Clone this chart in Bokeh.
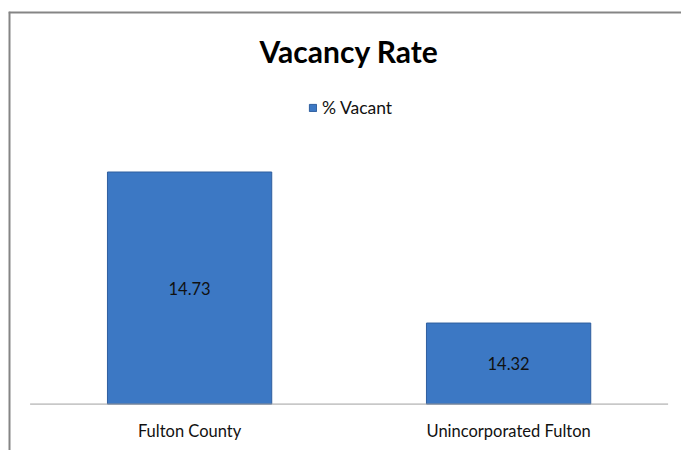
from bokeh.plotting import figure
from bokeh.models import ColumnDataSource, Range1d, Legend, LegendItem, LabelSet
from bokeh.core.properties import value
from bokeh.embed import file_html
from bokeh.resources import INLINE

# ---- data ----
categories = ["Fulton County", "Unincorporated Fulton"]
vacant = [14.73, 14.32]
series_name = "% Vacant"
chart_title = "Vacancy Rate"
y_min = 14.1          # value axis minimum (hidden axis)

FONT = "Lato"
BORDER = "#858585"
TEXT = "#111111"

idx = list(range(len(categories)))
src = ColumnDataSource(dict(
    x=idx,
    cat=categories,
    val=vacant,
    lab=[f"{v:.2f}" for v in vacant],
    mid=[(v + y_min) / 2 for v in vacant],
))

# ranges: the frame fills the whole bordered box
x_start, x_end = -0.5677, 1.5420
y_start, y_end = 13.974, 15.1657

p = figure(
    x_range=Range1d(x_start, x_end),
    y_range=Range1d(y_start, y_end),
    width=681, height=450,
    output_backend="svg", toolbar_location=None,
    x_axis_location=None, y_axis_location=None,
    min_border_left=8, min_border_right=0, min_border_bottom=0, min_border_top=11,
)
p.xgrid.visible = False
p.ygrid.visible = False
p.outline_line_color = None
p.background_fill_color = "white"
p.border_fill_color = "white"

# chart-area border (left and top edges visible)
p.line(x=[x_start, x_start], y=[y_start, y_end], line_color=BORDER, line_width=4)
p.line(x=[x_start, x_end], y=[y_end, y_end], line_color=BORDER, line_width=4)

# bars
bars = p.vbar(x="x", top="val", bottom=y_min, width=0.515, source=src,
              fill_color="#3c78c4", line_color="#2e5e9e", line_width=1)

# category axis baseline
p.segment(x0=[-0.5], x1=[len(categories) - 0.5], y0=[y_min], y1=[y_min],
          line_color="#a0a0a0", line_width=1)

# category labels
p.text(x="x", y=y_min, text="cat", source=src, y_offset=27,
       text_align="center", text_baseline="middle",
       text_font=value(FONT), text_font_size="16.5px", text_color=TEXT)

# title
p.text(x=[(len(categories) - 1) / 2], y=[y_end], text=[chart_title], y_offset=39.5,
       text_align="center", text_baseline="middle",
       text_font=value(FONT), text_font_size="30px", text_font_style="bold",
       text_color="#000000")

# value labels
labels = LabelSet(x="x", y="mid", text="lab", source=src,
                  text_align="center", text_baseline="middle",
                  text_font=value(FONT), text_font_size="16.5px", text_color=TEXT)
p.add_layout(labels)

legend = Legend(items=[LegendItem(label=series_name, renderers=[bars])],
                orientation="horizontal", location=(300, 332),
                label_text_font=FONT, label_text_font_size="17.5px",
                label_text_color=TEXT,
                glyph_width=9, glyph_height=9, label_standoff=5,
                border_line_color=None, background_fill_alpha=0,
                padding=0, margin=0)
p.add_layout(legend, "center")

open("out.html", "w").write(file_html(p, INLINE))
